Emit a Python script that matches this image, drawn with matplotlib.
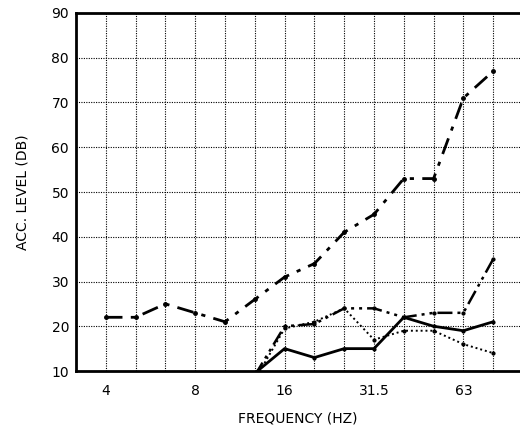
import matplotlib.pyplot as plt
import numpy as np

# third-octave band centres (Hz)
bands = ["4", "5", "6.3", "8", "10", "12.5", "16", "20", "25", "31.5", "40", "50", "63", "80"]
tick_labels = ["4", "8", "16", "31.5", "63"]

# acceleration levels (dB)
upper = [22, 22, 25, 23, 21, 26, 31, 34, 41, 45, 53, 53, 71, 77]
dashdotdot = [None, None, None, None, None, 9, 20, 20.5, 24, 24, 22, 23, 23, 35]
dotted = [None, None, None, None, None, 8, 19.5, 21, 24, 17, 19, 19, 16, 14]
solid = [None, None, None, None, None, 9.5, 15, 13, 15, 15, 22, 20, 19, 21]


def as_arr(vals):
    return np.array([np.nan if v is None else v for v in vals], dtype=float)


x = np.arange(len(bands))

fig = plt.figure(figsize=(5.2, 4.36), dpi=100)
ax = fig.add_axes([76 / 520, 65 / 436, 444 / 520, 358 / 436])

ax.plot(x, as_arr(upper), color="black", lw=2, dashes=(6, 3, 1.5, 3),
        marker="o", ms=2.5)
ax.plot(x, as_arr(dashdotdot), color="black", lw=1.8, dashes=(6, 2, 1.2, 2, 1.2, 2),
        marker="o", ms=2)
ax.plot(x, as_arr(dotted), color="black", lw=1.4, dashes=(1, 1.5),
        marker="o", ms=2)
ax.plot(x, as_arr(solid), color="black", lw=2, marker="o", ms=2)

ax.set_xlim(-1, 13.9)
ax.set_ylim(10, 90)
ax.set_xticks(x, minor=True)
ax.set_xticks([bands.index(t) for t in tick_labels])
ax.set_xticklabels(tick_labels)
ax.set_yticks(np.arange(10, 91, 10))
ax.tick_params(which="both", length=0, labelsize=10)
ax.tick_params(axis="y", pad=5)
ax.tick_params(axis="x", pad=9)
ax.grid(True, which="both", color="black", ls=(0, (1, 1.2)), lw=0.8)
ax.set_axisbelow(True)

for side in ["left", "top", "bottom"]:
    ax.spines[side].set_linewidth(2)
ax.spines["right"].set_visible(False)

ax.set_xlabel("FREQUENCY (HZ)", fontsize=10, labelpad=10)
ax.set_ylabel("ACC. LEVEL (DB)", fontsize=10, labelpad=16)

fig.savefig("out.png", dpi=100)
